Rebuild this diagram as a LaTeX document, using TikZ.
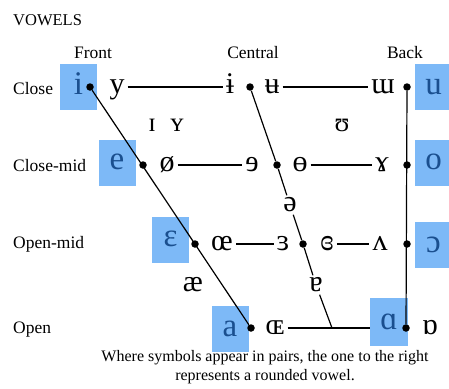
\documentclass[tikz,border=0pt]{standalone}
\usepackage{fontspec}
\setmainfont{Liberation Serif}
\usetikzlibrary{calc}
\definecolor{boxblue}{HTML}{7DB9F7}
\definecolor{letterblue}{HTML}{1A4F8F}
\tikzset{
	vowelnode/.style={
			inner sep=3pt,
			font=\fontsize{30}{34}\selectfont,
			text height=13pt,
			text depth=0pt
		},
	smallvowelnode/.style={
			vowelnode,
			font=\fontsize{27}{30}\selectfont
		},
	boxnode/.style={
			vowelnode,
			fill=boxblue,
			text=letterblue,
			minimum width=37pt,
			minimum height=46pt,
			inner sep=0pt,
			font=\fontsize{33}{36}\selectfont,
			text height=14pt
		},
	dotnode/.style={
			circle,
			fill=black,
			minimum size=7.5pt,
			inner sep=0pt
		},
	labelnode/.style={
			anchor=west,
			inner sep=0pt,
			font=\fontsize{17.5}{20}\selectfont
		},
	headnode/.style={
			inner sep=0pt,
			font=\fontsize{17.5}{20}\selectfont
		},
	linkline/.style={
			line width=1.2pt
		}
}

\begin{document}
\begin{tikzpicture}[x=1pt, y=-1pt]
\useasboundingbox[fill=white] (0,0) rectangle (449,388);

% headings
\node[labelnode, font=\fontsize{16.5}{19}\selectfont] (title) at (13,20) {VOWELS};
\node[headnode] (front) at (93,53) {Front};
\node[headnode] (central) at (253,53) {Central};
\node[headnode] (back) at (405,53) {Back};
\node[labelnode] (close) at (13,89) {Close};
\node[labelnode] (closemid) at (13,166) {Close-mid};
\node[labelnode] (openmid) at (13,244) {Open-mid};
\node[labelnode] (open) at (13,330) {Open};

% highlighted vowels
\node[boxnode] (bi) at (78.5,87) {i};
\node[boxnode] (be) at (117,162.5) {e};
\node[boxnode] (beps) at (170.5,239.5) {ɛ};
\node[boxnode] (ba) at (230,329) {a};
\node[boxnode, minimum width=38pt, minimum height=48pt] (bscripta) at (389,322) {ɑ};
\node[boxnode] (bu) at (433.5,87) {u};
\node[boxnode] (bo) at (433.5,162.5) {o};
\node[boxnode] (bopeno) at (433.5,245) {ɔ};

% close
\node[dotnode] (d11) at (90,87) {};
\node[dotnode] (d12) at (250,87) {};
\node[dotnode] (d13) at (407,87) {};
\node[vowelnode] (vy) at (117,87) {y};
\node[vowelnode] (vibar) at (230,87) {ɨ};
\node[vowelnode] (vubar) at (272,87) {ʉ};
\node[vowelnode] (vturnm) at (383,87) {ɯ};

% near-close
\node[smallvowelnode] (vsmi) at (152,125) {ɪ};
\node[smallvowelnode] (vsmy) at (177,125) {ʏ};
\node[smallvowelnode] (vupsilon) at (342,125) {ʊ};

% close-mid
\node[dotnode] (d21) at (143,165) {};
\node[dotnode] (d22) at (277,165) {};
\node[dotnode] (d23) at (407,165) {};
\node[vowelnode] (vslo) at (167,165) {ø};
\node[vowelnode] (vreve) at (252,165) {ɘ};
\node[vowelnode] (vbaro) at (300,165) {ɵ};
\node[vowelnode] (vramshorn) at (382,165) {ɤ};

\node[vowelnode] (vschwa) at (290,205) {ə};

% open-mid
\node[dotnode] (d31) at (195,244) {};
\node[dotnode] (d32) at (303,244) {};
\node[dotnode] (d33) at (407,244) {};
\node[vowelnode] (voe) at (222,244) {œ};
\node[vowelnode] (vreveps) at (283,244) {ɜ};
\node[vowelnode] (vcloserev) at (327,244) {ɞ};
\node[vowelnode] (vturnv) at (380,244) {ʌ};

\node[vowelnode] (vash) at (193,285) {æ};
\node[vowelnode] (vturna) at (316,285) {ɐ};

% open
\node[dotnode] (d41) at (251,328) {};
\node[dotnode] (d43) at (406,328) {};
\node[vowelnode] (vOE) at (275,328) {ɶ};
\node[vowelnode] (vturnscripta) at (430,328) {ɒ};
\coordinate (c42) at (332,328);

% chart lines
\draw[linkline] (d11) -- (d41);
\draw[linkline] (d13) -- (d43);
\draw[linkline] (d12) -- (d22);
\draw[linkline] (d22) -- (vschwa);
\draw[linkline] (vschwa) -- (d32);
\draw[linkline] (d32) -- (vturna);
\draw[linkline] (vturna) -- (c42);

\draw[linkline] (vy) -- (vibar);
\draw[linkline] (vubar) -- (vturnm);
\draw[linkline] (vslo) -- (vreve);
\draw[linkline] (vbaro) -- (vramshorn);
\draw[linkline] (voe) -- (vreveps);
\draw[linkline] (vcloserev) -- (vturnv);
\draw[linkline] (vOE) -- (vOE -| bscripta.west);

% note
\node[align=center, inner sep=0pt, font=\fontsize{16}{19}\selectfont] (note) at (265,367)
  {Where symbols appear in pairs, the one to the right\\ represents a rounded vowel.};
\end{tikzpicture}
\end{document}
